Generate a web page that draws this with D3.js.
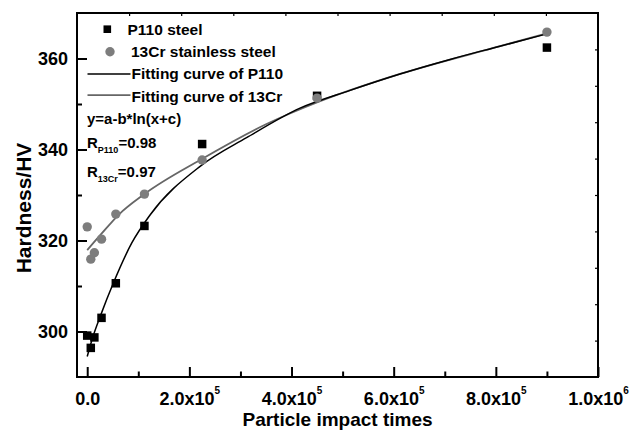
<!DOCTYPE html>
<html>
<head>
<meta charset="utf-8">
<script src="https://cdn.jsdelivr.net/npm/d3@7"></script>
<style>
  body { margin: 0; background: #fff; }
  text { font-family: "Liberation Sans", Arial, sans-serif; font-weight: bold; fill: #000; }
</style>
</head>
<body>
<div id="chart"></div>
<script>
// ......................
// Data
const impactTimes = [0, 7000, 14000, 28000, 56000, 112000, 225000, 450000, 900000];
const p110Hardness = [299.1, 296.4, 298.7, 303.0, 310.6, 323.2, 341.2, 351.8, 362.4];
const cr13Hardness = [323.0, 315.9, 317.3, 320.3, 325.8, 330.2, 337.7, 351.3, 365.8];

// fitting curves y=a-b*ln(x+c)
const p110FitX = [0, 10700, 26400, 51000, 87000, 123000, 221000, 312000, 416600, 514500, 612400, 710200, 808100, 896200];
const p110FitY = [294.5, 298.7, 303.6, 310.6, 319.4, 325.6, 336.3, 342.6, 349.1, 353.0, 356.6, 359.8, 362.7, 365.3];
const cr13FitX = [0, 28000, 61000, 112000, 222800, 351000, 456000, 612400, 808100, 896200];
const cr13FitY = [317.9, 321.5, 325.6, 330.2, 337.8, 345.6, 350.6, 356.6, 362.7, 365.4];

const xMajorTicks = [0, 200000, 400000, 600000, 800000, 1000000];
const xMinorTicks = [100000, 300000, 500000, 700000, 900000];
const xTickLabels = ["0.0", "2.0x10|5", "4.0x10|5", "6.0x10|5", "8.0x10|5", "1.0x10|6"];
const yMajorTicks = [300, 320, 340, 360];
const yMinorTicks = [310, 330, 350];

const legendLabels = ["P110 steel", "13Cr stainless steel", "Fitting curve of P110", "Fitting curve of 13Cr"];

// ......................
// SVG area
const svgWidth = 638, svgHeight = 430;
const plot = { left: 77, top: 13, right: 598, bottom: 377 };

const svg = d3.select("#chart").append("svg")
    .attr("width", svgWidth)
    .attr("height", svgHeight);

svg.append("rect").attr("width", svgWidth).attr("height", svgHeight).attr("fill", "#fff");

const x = d3.scaleLinear().domain([-20000, 1000000]).range([plot.left, plot.right]);
const y = d3.scaleLinear().domain([290, 370]).range([plot.bottom, plot.top]);

// mirrored axes on top/right just split the frame in ten
const xTop = d3.scaleLinear().domain([0, 10]).range([plot.left, plot.right]);
const yRight = d3.scaleLinear().domain([0, 10]).range([plot.bottom, plot.top]);

const black = "#000";
const gray = "#7d7d7d";
const grayLine = "#666";

// ......................
// axes
function styleAxis(g) {
    g.select(".domain").remove();
    g.selectAll(".tick line").attr("stroke", black).attr("stroke-width", 2);
}

// bottom
const xAxisG = svg.append("g")
    .attr("transform", `translate(0, ${plot.bottom})`)
    .call(d3.axisBottom(x).tickValues(xMajorTicks).tickSize(-10).tickPadding(19).tickFormat(""));
styleAxis(xAxisG);
xAxisG.selectAll(".tick text").each(function(d, i) {
    const parts = xTickLabels[i].split("|");
    const t = d3.select(this)
        .attr("font-size", 18)
        .attr("fill", black)
        .attr("y", 27.5)
        .attr("dy", null)
        .text(parts[0]);
    if (parts[1]) {
        t.append("tspan").attr("font-size", 10).attr("dy", -11).text(parts[1]);
    }
});
svg.append("g")
    .attr("transform", `translate(0, ${plot.bottom})`)
    .call(d3.axisBottom(x).tickValues(xMinorTicks).tickSize(-5.5).tickFormat(""))
    .call(styleAxis);

// left
const yAxisG = svg.append("g")
    .attr("transform", `translate(${plot.left}, 0)`)
    .call(d3.axisLeft(y).tickValues(yMajorTicks).tickSize(-10).tickPadding(9).tickFormat(d3.format("d")));
styleAxis(yAxisG);
yAxisG.selectAll(".tick text").attr("font-size", 18).attr("fill", black);
svg.append("g")
    .attr("transform", `translate(${plot.left}, 0)`)
    .call(d3.axisLeft(y).tickValues(yMinorTicks).tickSize(-5).tickFormat(""))
    .call(styleAxis);

// top and right
svg.append("g")
    .attr("transform", `translate(0, ${plot.top})`)
    .call(d3.axisTop(xTop).tickValues(d3.range(1, 10)).tickSize(-3).tickFormat(""))
    .call(styleAxis)
    .selectAll(".tick line").attr("stroke-width", 1.2);
svg.append("g")
    .attr("transform", `translate(${plot.right}, 0)`)
    .call(d3.axisRight(yRight).tickValues(d3.range(1, 10)).tickSize(-3).tickFormat(""))
    .call(styleAxis)
    .selectAll(".tick line").attr("stroke-width", 1.2);

// frame
svg.append("rect")
    .attr("x", plot.left)
    .attr("y", plot.top)
    .attr("width", plot.right - plot.left)
    .attr("height", plot.bottom - plot.top)
    .attr("fill", "none")
    .attr("stroke", black)
    .attr("stroke-width", 2);

// axis titles
svg.append("text")
    .attr("x", (plot.left + plot.right) / 2)
    .attr("y", 426)
    .attr("text-anchor", "middle")
    .attr("font-size", 19)
    .text("Particle impact times");

svg.append("text")
    .attr("transform", "translate(30.5, 208) rotate(-90)")
    .attr("text-anchor", "middle")
    .attr("font-size", 21)
    .text("Hardness/HV");

// ......................
// fitting curves
const line = d3.line()
    .x(d => x(d[0]))
    .y(d => y(d[1]))
    .curve(d3.curveMonotoneX);

svg.append("path")
    .datum(cr13FitX.map((v, i) => [v, cr13FitY[i]]))
    .attr("d", line)
    .attr("fill", "none")
    .attr("stroke", grayLine)
    .attr("stroke-width", 1.8);

svg.append("path")
    .datum(p110FitX.map((v, i) => [v, p110FitY[i]]))
    .attr("d", line)
    .attr("fill", "none")
    .attr("stroke", black)
    .attr("stroke-width", 1.5);

// ......................
// points
const sq = 8.5;
svg.append("g").selectAll("rect")
    .data(impactTimes.map((v, i) => [v, p110Hardness[i]]))
    .enter().append("rect")
    .attr("x", d => x(d[0]) - sq / 2)
    .attr("y", d => y(d[1]) - sq / 2)
    .attr("width", sq)
    .attr("height", sq)
    .attr("fill", black);

svg.append("g").selectAll("circle")
    .data(impactTimes.map((v, i) => [v, cr13Hardness[i]]))
    .enter().append("circle")
    .attr("cx", d => x(d[0]))
    .attr("cy", d => y(d[1]))
    .attr("r", 4.7)
    .attr("fill", gray);

// ......................
// legend
const legend = svg.append("g");
const rowY = [34.7, 57.3, 79.3, 101.7];
const textX = [127.5, 131, 131.5, 131.5];

legend.append("rect").attr("x", 107.3 - 3.8).attr("y", rowY[0] - 5.5 - 3.8)
    .attr("width", 7.6).attr("height", 7.6).attr("fill", black);
legend.append("circle").attr("cx", 110).attr("cy", rowY[1] - 5.6)
    .attr("r", 4.7).attr("fill", gray);
legend.append("line").attr("x1", 87.5).attr("x2", 130.5)
    .attr("y1", rowY[2] - 5.3).attr("y2", rowY[2] - 5.3)
    .attr("stroke", black).attr("stroke-width", 1.5);
legend.append("line").attr("x1", 87.5).attr("x2", 130.5)
    .attr("y1", rowY[3] - 6.5).attr("y2", rowY[3] - 6.5)
    .attr("stroke", grayLine).attr("stroke-width", 1.8);

legendLabels.forEach((label, i) => {
    legend.append("text")
        .attr("x", textX[i])
        .attr("y", rowY[i])
        .attr("font-size", 15.5)
        .text(label);
});

// equation and R values
svg.append("text").attr("x", 87).attr("y", 124).attr("font-size", 15).text("y=a-b*ln(x+c)");

const r1 = svg.append("text").attr("x", 87).attr("y", 148).attr("font-size", 15);
r1.append("tspan").text("R");
r1.append("tspan").attr("font-size", 9).attr("dy", 4.5).text("P110");
r1.append("tspan").attr("dy", -4.5).text("=0.98");

const r2 = svg.append("text").attr("x", 87).attr("y", 177).attr("font-size", 15);
r2.append("tspan").text("R");
r2.append("tspan").attr("font-size", 9).attr("dy", 4.5).text("13Cr");
r2.append("tspan").attr("dy", -4.5).text("=0.97");
</script>
</body>
</html>
